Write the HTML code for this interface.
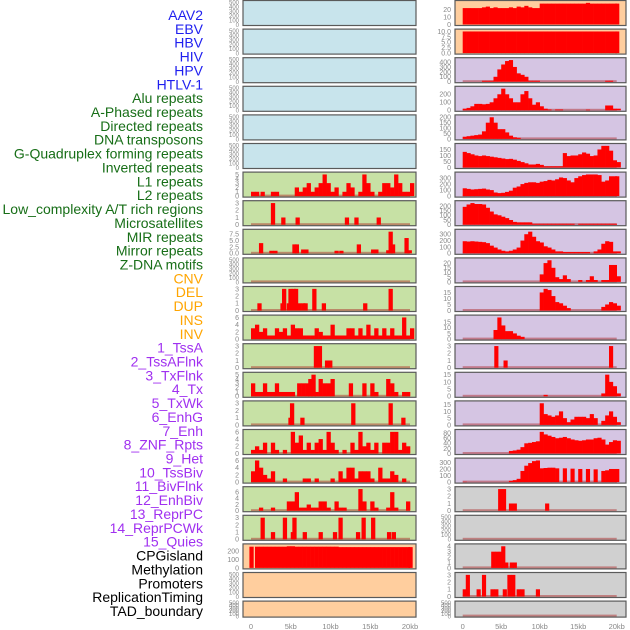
<!DOCTYPE html>
<html><head><meta charset="utf-8"><style>
html,body{margin:0;padding:0;background:#fff;}
svg{display:block;font-family:"Liberation Sans",sans-serif;}
</style></head><body>
<svg id="chart" width="630" height="630" viewBox="0 0 630 630"></svg>
<script>
const labels = ["AAV2","EBV","HBV","HIV","HPV","HTLV-1","Alu repeats","A-Phased repeats","Directed repeats","DNA transposons","G-Quadruplex forming repeats","Inverted repeats","L1 repeats","L2 repeats","Low_complexity A/T rich regions","Microsatellites","MIR repeats","Mirror repeats","Z-DNA motifs","CNV","DEL","DUP","INS","INV","1_TssA","2_TssAFlnk","3_TxFlnk","4_Tx","5_TxWk","6_EnhG","7_Enh","8_ZNF_Rpts","9_Het","10_TssBiv","11_BivFlnk","12_EnhBiv","13_ReprPC","14_ReprPCWk","15_Quies","CPGisland","Methylation","Promoters","ReplicationTiming","TAD_boundary"];
const labelColors = ["#1f1fef","#1f1fef","#1f1fef","#1f1fef","#1f1fef","#1f1fef","#176e17","#176e17","#176e17","#176e17","#176e17","#176e17","#176e17","#176e17","#176e17","#176e17","#176e17","#176e17","#176e17","#ffa500","#ffa500","#ffa500","#ffa500","#ffa500","#a030f0","#a030f0","#a030f0","#a030f0","#a030f0","#a030f0","#a030f0","#a030f0","#a030f0","#a030f0","#a030f0","#a030f0","#a030f0","#a030f0","#a030f0","#000","#000","#000","#000","#000"];
const xTicks = [0,5,10,15,20];
const xTickLabels = ["0","5kb","10kb","15kb","20kb"];
const emptyTicks = [0,100,200,300,400,500];

const leftTicks = [null,null,null,null,null,null,[0,1,2,3,4,5],[0,1,2,3],[0,2.5,5,7.5],null,[0,1,2,3],[0,2,4,6],[0,1,2,3],[0,1,2,3,4,5],[0,1,2,3],[0,2,4,6],[0,2,4,6],[0,2,4,6],[0,1,2,3],[0,100,200],null,null];
const leftTickFmt = [0,0,0,0,0,0,0,0,1,0,0,0,0,0,0,0,0,0,0,0,0,0];
const leftSeries = [
[],[],[],[],[],[],
[[0,1],[0.5,1],[1.2,1],[2.5,1],[3,1],[5.5,2],[6,1],[6.5,2],[7,3],[7.5,1],[8,2],[8.5,3],[9,5],[9.5,3],[10,1],[10.5,2],[11.5,1],[12,3],[12.5,2],[13.5,1],[14,5],[14.5,3],[15,1],[16,1],[16.5,3],[17,3],[17.5,2],[18,5],[18.5,3],[19,1],[19.5,1],[20,3]],
[[2.5,3],[3.8,1],[5.6,1],[11.8,1],[13,1],[15.8,1]],
[[1,4],[2.3,1],[2.8,1],[5.2,3.5],[5.5,3.5],[6.3,1.5],[6.7,1.5],[10.5,1],[11.1,1],[13.3,3.5],[15.1,1.5],[15.5,1.5],[17,1.2],[17.3,8.5],[17.6,3.5],[19.3,6],[19.7,1.2]],
[],
[[0.8,1],[3.7,1],[3.9,3],[4.5,1],[4.7,3],[5.1,3],[5.4,3],[5.8,1],[6.3,1],[6.6,1],[7.7,3],[8.9,1],[14.1,1],[17.3,3]],
[[0,3],[0.5,4],[1,2],[1.5,3],[2,1],[2.5,1],[3,3],[3.5,2],[4,3],[4.5,1],[5,4],[5.5,3],[6,3],[6.5,1],[7,1],[7.5,1],[8,3],[8.5,2],[9,1],[9.5,1],[10,4],[10.5,1],[11,1],[11.5,1],[12,3],[12.5,3],[13,1],[13.5,3],[14,1],[14.5,4],[15,1],[15.5,3],[16,1],[16.5,3],[17,1],[17.5,3],[18,1],[18.5,1],[19,6],[19.5,1],[20,3]],
[[7.9,3],[8.4,3],[9.3,1],[9.7,1]],
[[0,3],[0.5,1],[1,1],[1.5,3],[2,1],[2.5,1],[3,3],[3.5,1],[4,1],[4.5,1],[5,1],[5.8,3],[6.3,3],[6.8,3],[7.2,4],[7.6,5],[8,1],[8.5,4],[9,3],[9.5,3],[10,4],[11,0],[12.3,3],[14,3],[15,3],[15.5,1],[17,4],[17.5,3],[18,1],[19,1],[19.5,1]],
[[4.7,1],[4.9,3],[6.2,1],[12.6,3],[17.3,3],[18.9,1]],
[[0,1],[0.5,2],[1,1],[1.5,3],[2.5,3],[3,1],[4,1],[5,6],[5.5,3],[6,5],[6.5,1],[7,3],[7.5,1],[8,3],[8.5,4],[9,1],[9.5,6],[10,3],[10.5,1],[11.5,1],[12.5,3],[13,1],[13.5,6],[14,2],[14.5,3],[15,1],[15.5,3],[16.5,3],[17,3],[17.5,6],[18,6],[18.5,1],[19,3],[19.5,2]],
[[0,3],[0.5,6],[1,4],[1.5,2],[2,1],[2.5,3],[4,1],[6.5,1],[7,1],[8,1],[10,1],[11,3],[11.5,1],[12,4],[12.5,4],[13,1],[13.5,3],[14,3],[14.5,3],[15,1],[16,4],[16.5,1],[17,1],[17.5,3],[18,2],[19,1]],
[[1,1],[2.5,1],[4.5,3],[5,3],[5.5,6],[6,1],[6.5,1],[7,2],[7.5,1],[8,1],[8.5,3],[9,3],[9.5,1],[10.5,3],[11,1],[11.5,1],[13.5,7],[14,3],[15,3],[15.5,1],[17,1],[17.5,6],[18,1],[19.5,3]],
[[1.2,3],[2.5,1],[4,3],[5.2,3],[5,1],[6.5,1],[8.5,1],[10.3,1],[11,3],[13.2,1],[13.9,3],[15.1,3],[17.1,1],[17.7,1]],
[[-0.2,250],[0.5,250],[1,250],[1.5,250],[2,250],[2.5,250],[3,250],[3.5,250],[4,250],[4.5,255],[5,255],[5.5,250],[6,250],[6.5,250],[7,250],[7.5,250],[8,250],[8.5,250],[9,250],[9.5,250],[10,250],[10.5,250],[11,245],[11.5,245],[12,245],[12.5,245],[13,245],[13.5,245],[14,245],[14.5,245],[15,245],[15.5,245],[16,245],[16.5,245],[17,245],[17.5,245],[18,245],[18.5,245],[19,245],[19.5,245],[19.8,245]],
[],[]
];
const rightTicks = [[0,10,20],[0,2.5,5,7.5,10],[0,100,200,300,400],[0,100,200],[0,50,100,150,200],[0,50,100,150],[0,100,200,300],[0,50,100,150,200],[0,100,200,300],[0,5,10,15,20],[0,5,10,15],[0,5,10,15],[0,1,2,3],[0,5,10,15],[0,5,10,15],[0,20,40,60,80],[0,100,200,300],[0,1,2,3],null,[0,1,2,3,4],[0,1,2,3],null];
const rightTickFmt = [0,1,0,0,0,0,0,0,0,0,0,0,0,0,0,0,0,0,0,0,0,0];
const rightSeries = [
[[0,22],[0.5,22],[1,22],[1.5,22],[2,22],[2.5,23],[3,24],[3.5,22],[4,23],[4.5,22],[5,22],[5.5,22],[6,23],[6.5,22],[7,24],[7.5,23],[8,25],[8.5,23],[9,22],[9.5,22],[10,28],[10.5,28],[11,28],[11.5,28],[12,28],[12.5,28],[13,28],[13.5,28],[14,28],[14.5,28],[15,28],[15.5,28],[16,29],[16.5,28],[17,28],[17.5,28],[18,28],[18.5,28],[19,28],[19.5,28],[19.8,28]],
[[0,10],[0.5,10],[1,10],[1.5,10],[2,10],[2.5,10],[3,10],[3.5,10],[4,10],[4.5,10],[5,10],[5.5,10],[6,10],[6.5,10],[7,10],[7.5,10],[8,10],[8.5,10],[9,10],[9.5,10],[10,10],[10.5,10],[11,10],[11.5,10],[12,10],[12.5,10],[13,10],[13.5,10],[14,10],[14.5,10],[15,10],[15.5,10],[16,10],[16.5,10],[17,10],[17.5,10],[18,10],[18.5,10],[19,10],[19.5,10],[19.8,10]],
[[2.5,20],[3,20],[3.5,20],[4,100],[4.5,250],[5,350],[5.5,420],[6,440],[6.5,300],[7,170],[7.5,140],[8,100],[8.5,20],[9,20],[9.5,20],[18.5,20],[19,20]],
[[0,20],[0.5,30],[1,50],[1.5,80],[2,80],[2.5,75],[3,80],[3.5,100],[4,150],[4.5,200],[5,270],[5.5,200],[6,150],[6.5,100],[7,100],[7.5,200],[8,240],[8.5,150],[9,70],[9.5,100],[10,50],[10.5,20],[11,10],[12,10],[12.5,10],[16,8],[18.5,60],[19,60],[19.5,20],[20,20]],
[[0,20],[0.5,25],[1,30],[1.5,35],[2,40],[2.5,70],[3,150],[3.5,200],[4,150],[4.5,90],[5,90],[5.5,60],[6,30],[6.5,15],[7,10]],
[[0,130],[0.5,120],[1,110],[1.5,100],[2,95],[2.5,100],[3,95],[3.5,90],[4,85],[4.5,80],[5,75],[5.5,70],[6,72],[6.5,65],[7,55],[7.5,45],[8,35],[8.5,25],[9,25],[9.5,30],[10,22],[10.5,10],[11,10],[11.5,10],[12,10],[12.5,10],[13,120],[13.5,95],[14,100],[14.5,100],[15,110],[15.5,125],[16,115],[16.5,95],[17,100],[17.5,150],[18,180],[18.5,180],[19,140],[19.5,60],[20,45]],
[[0,130],[0.5,120],[1,110],[1.5,115],[2,120],[2.5,125],[3,110],[3.5,100],[4,60],[4.5,50],[5,55],[5.5,70],[6,90],[6.5,140],[7,160],[7.5,200],[8,220],[8.5,230],[9,230],[9.5,220],[10,240],[10.5,250],[11,270],[11.5,260],[12,280],[12.5,310],[13,300],[13.5,260],[14,230],[14.5,300],[15,330],[15.5,350],[16,360],[16.5,360],[17,360],[17.5,350],[18,240],[18.5,260],[19,330],[19.5,330],[19.8,330]],
[[0,190],[0.5,215],[1,230],[1.5,220],[2,220],[2.5,215],[3,180],[3.5,140],[4,110],[4.5,100],[5,85],[5.5,70],[6,50],[6.5,30],[7,25],[7.5,25],[8,25],[8.5,25],[9,10],[9.5,10],[10,10],[10.5,10],[11,10],[11.5,10],[12,10],[12.5,10],[13,10],[13.5,10],[14,10],[15,10],[15.5,10],[16,10],[16.5,10],[17,10],[17.5,10],[18,10],[18.5,10],[19,10],[19.5,10]],
[[0,190],[0.5,185],[1,190],[1.5,185],[2,180],[2.5,175],[3,160],[3.5,120],[4,90],[4.5,60],[5,40],[5.5,30],[6,40],[6.5,60],[7,90],[7.5,200],[8,300],[8.5,340],[9,260],[9.5,190],[10,170],[10.5,110],[11,90],[11.5,60],[12,30],[12.5,30],[13,20],[13.5,20],[14,20],[14.5,20],[15,20],[15.5,20],[16,20],[17,30],[17.5,60],[18,150],[18.5,190],[19,180],[19.5,30],[20,30]],
[[10,8],[10.5,20],[11,23],[11.5,15],[12,5],[12.5,3],[13,7],[13.5,3],[15,2],[16,2],[16.5,6],[17,2],[18,2],[18.5,2],[19,18],[19.5,18],[20,6]],
[[10,15],[10.5,18],[11,17],[11.5,12],[12,7],[12.5,6],[13,4],[13.5,2],[18,3],[18.5,5],[19,7],[19.5,6],[20,4]],
[[4,8],[4.5,19],[5,12],[5.5,7],[6,7],[6.5,5],[7,3],[7.5,2]],
[[4.1,3],[5.3,1],[19,3]],
[[10.5,1],[18,2],[18.5,15],[19,10],[19.5,7],[20,2]],
[[10,16],[10.5,8],[11,7],[11.5,6],[12,7],[12.5,10],[13,5],[13.5,2],[14,4],[14.5,6],[15,6],[15.5,6],[16,5],[16.5,8],[17,5],[18,3],[18.5,7],[19,10],[19.5,6],[20,2]],
[[6,10],[6.5,12],[7,15],[7.5,25],[8,40],[8.5,42],[9,45],[9.5,48],[10,85],[10.5,75],[11,70],[11.5,65],[12,60],[12.5,62],[13,65],[13.5,60],[14,55],[14.5,52],[15,50],[15.5,52],[16,55],[16.5,55],[17,60],[17.5,62],[18,55],[18.5,35],[19,45],[19.5,52],[20,50]],
[[0,5],[6,20],[6.5,30],[7,50],[7.5,170],[8,250],[8.5,290],[9,320],[9.5,330],[10,210],[10.5,215],[11,220],[11.5,220],[12,210],[13,210],[14,205],[15,200],[16,200],[17,195],[18,170],[18.5,180],[19,200],[19.5,200],[19.8,200]],
[[4.6,3],[5.1,3],[6,1],[6.5,1],[10.7,1]],
[],
[[3.7,3],[4.2,3],[4.7,3],[5,4],[5.4,1],[6.1,1],[6.5,1]],
[[0,1],[0.4,3],[1.8,1],[2.5,3],[3.6,1],[4.1,1],[5.2,1],[5.8,3],[6.3,3],[7,1],[7.5,1],[9.5,1]],
[]
];
const leftBg = ["#c8e4ec","#c8e4ec","#c8e4ec","#c8e4ec","#c8e4ec","#c8e4ec","#c7e1a5","#c7e1a5","#c7e1a5","#c7e1a5","#c7e1a5","#c7e1a5","#c7e1a5","#c7e1a5","#c7e1a5","#c7e1a5","#c7e1a5","#c7e1a5","#c7e1a5","#ffce9e","#ffce9e","#ffce9e"];
const rightBg = ["#ffce9e","#ffce9e","#d5c5e3","#d5c5e3","#d5c5e3","#d5c5e3","#d5c5e3","#d5c5e3","#d5c5e3","#d5c5e3","#d5c5e3","#d5c5e3","#d5c5e3","#d5c5e3","#d5c5e3","#d5c5e3","#d5c5e3","#d0d0d0","#d0d0d0","#d0d0d0","#d0d0d0","#d0d0d0"];

const NS = "http://www.w3.org/2000/svg";
const svg = document.getElementById("chart");
function mk(tag, attrs, parent){ const e=document.createElementNS(NS,tag); for(const k in attrs) e.setAttribute(k,attrs[k]); (parent||svg).appendChild(e); return e; }

labels.forEach((t,i)=>{
  const e = mk("text",{x:203,y:20+13.86*i,"text-anchor":"end","font-size":"14",fill:labelColors[i]});
  
  
  e.textContent = t;
});

const cols = [{x0:243,x1:416,z:251,k:7.95,series:leftSeries,ticks:leftTicks,fmt:leftTickFmt,bg:leftBg,name:'left'},
              {x0:455,x1:626,z:462.7,k:7.7,series:rightSeries,ticks:rightTicks,fmt:rightTickFmt,bg:rightBg,name:'right'}];
cols.forEach((c,ci)=>{
  const xs = kb => c.z + kb*c.k;
  for(let r=0;r<22;r++){
    const top = 0.5+28.6*r, h = (r===21)?16:25, bot = top+h;
    const g = mk("g",{});
    
    
    mk("rect",{x:c.x0,y:top,width:c.x1-c.x0,height:h,fill:c.bg[r],stroke:"none"},g);
    const data = c.series[r];
    const ticks = c.ticks[r] || emptyTicks;
    let dmax = 500;
    if(data.length){ dmax = Math.max(...data.map(d=>d[1]), ticks[ticks.length-1]) * 1.04; }
    const ys = v => bot-1 - v/dmax*(h-2.5);
    const isBg = (c.bg[r]!=="#c8e4ec" && c.bg[r]!=="#ffce9e");
    if(isBg){ mk("rect",{x:xs(0),y:bot-2.5,width:xs(20)-xs(0),height:2,fill:"rgba(170,30,30,0.45)"},g); }
    data.forEach(d=>{
      const b = mk("rect",{x:xs(d[0]),y:ys(d[1]),width:0.5*c.k+0.3,height:Math.max(0,bot-1-ys(d[1])),fill:"#ff0000"},g);
      
      
    });
    mk("rect",{x:c.x0,y:top,width:c.x1-c.x0,height:h,fill:"none",stroke:"#5a5a5a","stroke-width":1.2},g);
    const fs = c.ticks[r] ? 7 : 6;
    ticks.forEach(t=>{
      const tl = mk("text",{x:c.x0-4,y:ys(t)+2.4,"text-anchor":"end","font-size":fs,fill:"#888"},g);
      
      
      tl.textContent = c.fmt[r] ? t.toFixed(1) : String(t);
    });
  }
  xTicks.forEach((t,i)=>{
    const tl = mk("text",{x:xs(t),y:629,"text-anchor":"middle","font-size":"7.5",fill:"#888"});
    
    
    tl.textContent = xTickLabels[i];
  });
});
</script>
</body></html>
